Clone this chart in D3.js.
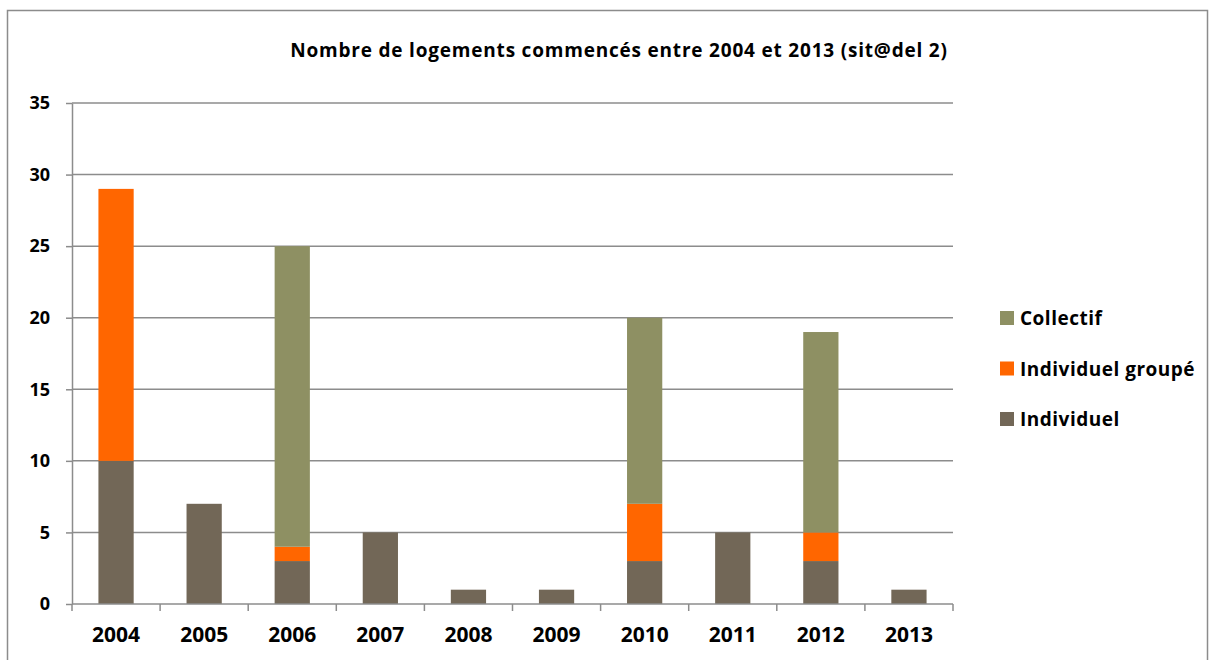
<!DOCTYPE html>
<html>
<head>
<meta charset="utf-8">
<script src="https://cdn.jsdelivr.net/npm/d3@7"></script>
<style>
  body { margin: 0; background: #fff; }
  text { font-family: "Open Sans", Lato, sans-serif; font-weight: bold; fill: #000; }
</style>
</head>
<body>
<svg width="1216" height="660"></svg>
<script>
const years = ['2004', '2005', '2006', '2007', '2008', '2009', '2010', '2011', '2012', '2013'];
const individuel = [10, 7, 3, 5, 1, 1, 3, 5, 3, 1];
const individuelGroupe = [19, 0, 1, 0, 0, 0, 4, 0, 2, 0];
const collectif = [0, 0, 21, 0, 0, 0, 13, 0, 14, 0];
const yTicks = [0, 5, 10, 15, 20, 25, 30, 35];

const keys = ['Individuel', 'Individuel groupé', 'Collectif'];
const colors = {'Individuel': '#726757', 'Individuel groupé': '#ff6600', 'Collectif': '#8e9063'};

const data = years.map((y, i) => ({
  year: y,
  'Individuel': individuel[i],
  'Individuel groupé': individuelGroupe[i],
  'Collectif': collectif[i]
}));

const stacked = d3.stack().keys(keys)(data);

const svg = d3.select('svg');

// outer frame
svg.append('rect')
  .attr('x', 7.5).attr('y', 10.5)
  .attr('width', 1200).attr('height', 660)
  .attr('fill', 'none')
  .attr('stroke', '#8c8c8c')
  .attr('stroke-width', 1.5);

const margin = {top: 103, left: 72, right: 263, bottom: 56};
const width = 1216 - margin.left - margin.right;
const height = 660 - margin.top - margin.bottom;

const g = svg.append('g')
  .attr('transform', `translate(${margin.left},${margin.top})`);

const x = d3.scaleBand()
  .domain(years)
  .range([0, width])
  .paddingInner(0.6)
  .paddingOuter(0.3);

const y = d3.scaleLinear()
  .domain([0, 35])
  .range([height, 0]);

// gridlines
g.append('g')
  .selectAll('line')
  .data(yTicks.filter(d => d > 0))
  .enter().append('line')
    .attr('x1', 0)
    .attr('x2', width)
    .attr('y1', d => y(d))
    .attr('y2', d => y(d))
    .attr('stroke', '#8c8c8c')
    .attr('stroke-width', 1.5);

// bars
g.selectAll('.series')
  .data(stacked)
  .enter().append('g')
    .attr('fill', d => colors[d.key])
  .selectAll('rect')
  .data(d => d)
  .enter().append('rect')
    .attr('x', d => x(d.data.year))
    .attr('y', d => y(d[1]))
    .attr('width', x.bandwidth())
    .attr('height', d => y(d[0]) - y(d[1]));

// y axis
const yAxis = g.append('g')
  .call(d3.axisLeft(y).tickValues(yTicks).tickSize(6).tickSizeOuter(0));
yAxis.selectAll('text')
  .style('font-size', '18px')
  .attr('x', -22)
  .attr('text-anchor', 'end');
yAxis.select('.domain').attr('stroke', '#8c8c8c').attr('stroke-width', 1.5);
yAxis.selectAll('.tick line').attr('stroke', '#8c8c8c').attr('stroke-width', 1.5);

// x axis with ticks at band boundaries
const xAxis = g.append('g')
  .attr('transform', `translate(0,${height})`);
xAxis.append('line')
  .attr('x1', 0).attr('x2', width)
  .attr('stroke', '#8c8c8c').attr('stroke-width', 1.5);
xAxis.selectAll('.tick-mark')
  .data(d3.range(years.length + 1))
  .enter().append('line')
    .attr('x1', i => i * x.step())
    .attr('x2', i => i * x.step())
    .attr('y1', 0)
    .attr('y2', 7)
    .attr('stroke', '#8c8c8c')
    .attr('stroke-width', 1.5);
xAxis.selectAll('.year')
  .data(years)
  .enter().append('text')
    .attr('x', d => x(d) + x.bandwidth() / 2)
    .attr('y', 38)
    .attr('text-anchor', 'middle')
    .style('font-size', '21px')
    .text(d => d);

// title
svg.append('text')
  .attr('x', 619)
  .attr('y', 57)
  .attr('text-anchor', 'middle')
  .style('font-size', '19px')
  .style('letter-spacing', '0.8px')
  .text('Nombre de logements commencés entre 2004 et 2013 (sit@del 2)');

// legend
const legendKeys = ['Collectif', 'Individuel groupé', 'Individuel'];
const legend = svg.append('g')
  .attr('transform', 'translate(1000,311)');
const item = legend.selectAll('g')
  .data(legendKeys)
  .enter().append('g')
    .attr('transform', (d, i) => `translate(0,${i * 50.5})`);
item.append('rect')
  .attr('width', 14).attr('height', 14)
  .attr('fill', d => colors[d]);
item.append('text')
  .attr('x', 20)
  .attr('y', 14)
  .style('font-size', '19px')
  .style('letter-spacing', '0.5px')
  .text(d => d);
</script>
</body>
</html>
